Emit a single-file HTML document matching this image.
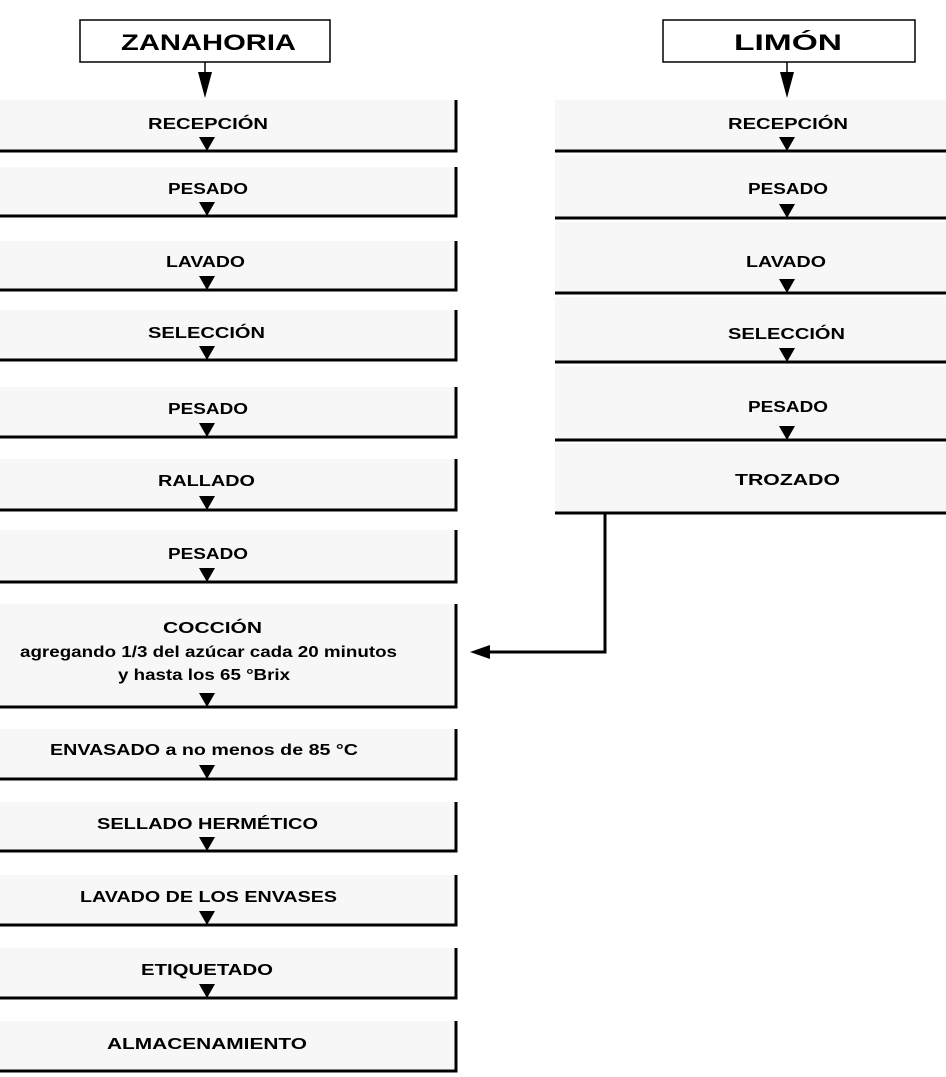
<!DOCTYPE html>
<html><head><meta charset="utf-8"><style>
html,body{margin:0;padding:0;background:#fff;}
svg{display:block;}
text{font-family:"Liberation Sans",sans-serif;fill:#000;}
</style></head><body>
<svg width="946" height="1077" viewBox="0 0 946 1077" xmlns="http://www.w3.org/2000/svg">
<g fill="#f7f7f7">
<rect x="0" y="100" width="455" height="51"/><rect x="0" y="167" width="455" height="49"/>
<rect x="0" y="241" width="455" height="49"/><rect x="0" y="310" width="455" height="50"/>
<rect x="0" y="387" width="455" height="50"/><rect x="0" y="459" width="455" height="51"/>
<rect x="0" y="530" width="455" height="52"/><rect x="0" y="604" width="455" height="103"/>
<rect x="0" y="729" width="455" height="50"/><rect x="0" y="802" width="455" height="49"/>
<rect x="0" y="875" width="455" height="50"/><rect x="0" y="948" width="455" height="50"/>
<rect x="0" y="1021" width="455" height="50"/>
<rect x="555" y="100" width="391" height="51"/><rect x="555" y="155" width="391" height="63"/>
<rect x="555" y="222" width="391" height="71"/><rect x="555" y="297" width="391" height="65"/>
<rect x="555" y="366" width="391" height="74"/><rect x="555" y="444" width="391" height="69"/>
</g>
<g stroke="#000" stroke-width="3" fill="none">
<path d="M0 151H456V100"/><path d="M0 216H456V167"/><path d="M0 290H456V241"/>
<path d="M0 360H456V310"/><path d="M0 437H456V387"/><path d="M0 510H456V459"/>
<path d="M0 582H456V530"/><path d="M0 707H456V604"/><path d="M0 779H456V729"/>
<path d="M0 851H456V802"/><path d="M0 925H456V875"/><path d="M0 998H456V948"/>
<path d="M0 1071H456V1021"/>
<path d="M555 151H946"/><path d="M555 218H946"/><path d="M555 293H946"/>
<path d="M555 362H946"/><path d="M555 440H946"/><path d="M555 513H946"/>
<path d="M605 513V652H485"/>
</g>
<g stroke="#000" stroke-width="1.5" fill="#fff">
<rect x="80" y="20" width="250" height="42"/>
<rect x="663" y="20" width="252" height="42"/>
</g>
<g stroke="#000" stroke-width="1.5"><path d="M205 62V80"/><path d="M787 62V80"/></g>
<g fill="#000">
<polygon points="198,72 212,72 205,98"/><polygon points="780,72 794,72 787,98"/>
<polygon points="470,652 490,645 490,659"/>
<polygon points="199,137 215,137 207,151"/><polygon points="199,202 215,202 207,216"/>
<polygon points="199,276 215,276 207,290"/><polygon points="199,346 215,346 207,360"/>
<polygon points="199,423 215,423 207,437"/><polygon points="199,496 215,496 207,510"/>
<polygon points="199,568 215,568 207,582"/><polygon points="199,693 215,693 207,707"/>
<polygon points="199,765 215,765 207,779"/><polygon points="199,837 215,837 207,851"/>
<polygon points="199,911 215,911 207,925"/><polygon points="199,984 215,984 207,998"/>
<polygon points="779,137 795,137 787,151"/><polygon points="779,204 795,204 787,218"/>
<polygon points="779,279 795,279 787,293"/><polygon points="779,348 795,348 787,362"/>
<polygon points="779,426 795,426 787,440"/>
</g>
<g font-size="16" font-weight="bold">
<text x="121" y="50" font-size="22" textLength="175" lengthAdjust="spacingAndGlyphs">ZANAHORIA</text>
<text x="734" y="50" font-size="22" textLength="108" lengthAdjust="spacingAndGlyphs">LIMÓN</text>
<text x="148" y="129" textLength="120" lengthAdjust="spacingAndGlyphs">RECEPCIÓN</text>
<text x="168" y="194" textLength="80" lengthAdjust="spacingAndGlyphs">PESADO</text>
<text x="166" y="267" textLength="79" lengthAdjust="spacingAndGlyphs">LAVADO</text>
<text x="148" y="338" textLength="117" lengthAdjust="spacingAndGlyphs">SELECCIÓN</text>
<text x="168" y="414" textLength="80" lengthAdjust="spacingAndGlyphs">PESADO</text>
<text x="158" y="486" textLength="97" lengthAdjust="spacingAndGlyphs">RALLADO</text>
<text x="168" y="559" textLength="80" lengthAdjust="spacingAndGlyphs">PESADO</text>
<text x="163" y="633" textLength="99" lengthAdjust="spacingAndGlyphs">COCCIÓN</text>
<text x="20" y="657" textLength="377" lengthAdjust="spacingAndGlyphs">agregando 1/3 del azúcar cada 20 minutos</text>
<text x="118" y="680" textLength="172" lengthAdjust="spacingAndGlyphs">y hasta los 65 °Brix</text>
<text x="50" y="755" textLength="308" lengthAdjust="spacingAndGlyphs">ENVASADO a no menos de 85 °C</text>
<text x="97" y="829" textLength="221" lengthAdjust="spacingAndGlyphs">SELLADO HERMÉTICO</text>
<text x="80" y="902" textLength="257" lengthAdjust="spacingAndGlyphs">LAVADO DE LOS ENVASES</text>
<text x="141" y="975" textLength="132" lengthAdjust="spacingAndGlyphs">ETIQUETADO</text>
<text x="107" y="1049" textLength="200" lengthAdjust="spacingAndGlyphs">ALMACENAMIENTO</text>
<text x="728" y="129" textLength="120" lengthAdjust="spacingAndGlyphs">RECEPCIÓN</text>
<text x="748" y="194" textLength="80" lengthAdjust="spacingAndGlyphs">PESADO</text>
<text x="746" y="267" textLength="80" lengthAdjust="spacingAndGlyphs">LAVADO</text>
<text x="728" y="339" textLength="117" lengthAdjust="spacingAndGlyphs">SELECCIÓN</text>
<text x="748" y="412" textLength="80" lengthAdjust="spacingAndGlyphs">PESADO</text>
<text x="735" y="485" textLength="105" lengthAdjust="spacingAndGlyphs">TROZADO</text>
</g>
</svg>
</body></html>
